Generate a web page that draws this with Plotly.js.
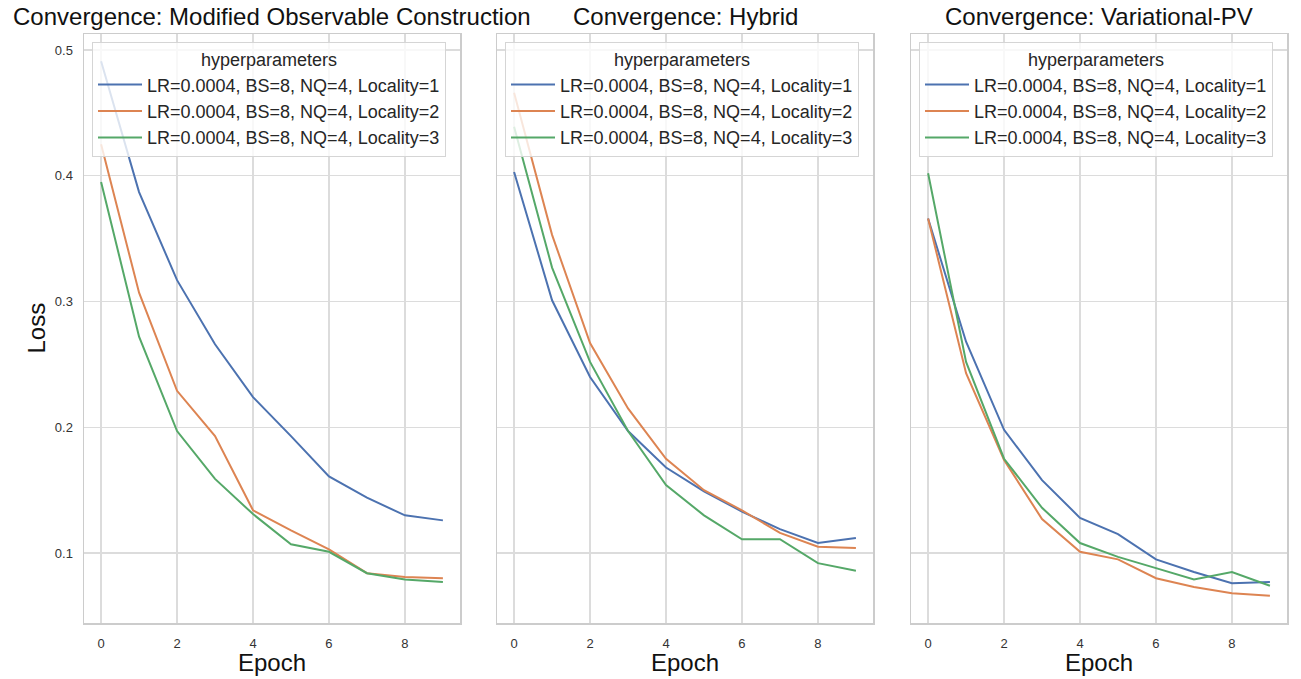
<!DOCTYPE html>
<html>
<head>
<meta charset="utf-8">
<script src="https://cdn.plot.ly/plotly-3.0.1.min.js"></script>
<style>html,body{margin:0;padding:0;background:#fff;}#chart{width:1301px;height:679px;}</style>
</head>
<body>
<div id="chart"></div>
<script>
const epochs = [0,1,2,3,4,5,6,7,8,9];
const seriesNames = ["LR=0.0004, BS=8, NQ=4, Locality=1","LR=0.0004, BS=8, NQ=4, Locality=2","LR=0.0004, BS=8, NQ=4, Locality=3"];
const panelTitles = ["Convergence: Modified Observable Construction","Convergence: Hybrid","Convergence: Variational-PV"];
const xTicks = [0,2,4,6,8];
const yTicks = [0.1,0.2,0.3,0.4,0.5];

// Modified Observable Construction
const mocL1 = [0.491,0.387,0.317,0.266,0.224,0.193,0.161,0.144,0.130,0.126];
const mocL2 = [0.425,0.307,0.229,0.193,0.134,0.118,0.103,0.084,0.081,0.080];
const mocL3 = [0.395,0.272,0.197,0.159,0.131,0.107,0.101,0.084,0.079,0.077];
// Hybrid
const hybL1 = [0.403,0.301,0.240,0.197,0.168,0.149,0.133,0.119,0.108,0.112];
const hybL2 = [0.466,0.353,0.267,0.215,0.175,0.150,0.134,0.116,0.105,0.104];
const hybL3 = [0.439,0.327,0.252,0.197,0.154,0.130,0.111,0.111,0.092,0.086];
// Variational-PV
const vpvL1 = [0.366,0.268,0.198,0.158,0.128,0.115,0.095,0.085,0.076,0.077];
const vpvL2 = [0.366,0.243,0.174,0.127,0.101,0.095,0.080,0.073,0.068,0.066];
const vpvL3 = [0.402,0.252,0.175,0.136,0.108,0.097,0.088,0.079,0.085,0.074];

const colors = ["#4c72b0","#dd8452","#55a868"];
const panels = [[mocL1,mocL2,mocL3],[hybL1,hybL2,hybL3],[vpvL1,vpvL2,vpvL3]];
const font = "Liberation Sans, Arial, sans-serif";

const traces = [];
panels.forEach((p, pi) => {
  p.forEach((ys, si) => {
    traces.push({
      x: epochs, y: ys, type: "scatter", mode: "lines",
      name: seriesNames[si],
      line: {color: colors[si], width: 2},
      xaxis: pi === 0 ? "x" : "x" + (pi + 1),
      yaxis: pi === 0 ? "y" : "y" + (pi + 1),
      legend: pi === 0 ? "legend" : "legend" + (pi + 1),
      showlegend: true
    });
  });
});

const L = 84, R = 14, T = 34, B = 56, W = 1301, H = 679;
const PW = W - L - R, PH = H - T - B;
const px = [[84,460],[497,873],[911,1287]];
const domains = px.map(d => [(d[0]-L)/PW, (d[1]-L)/PW]);

const layout = {
  width: W, height: H,
  margin: {l: L, r: R, t: T, b: B},
  paper_bgcolor: "#ffffff", plot_bgcolor: "#ffffff",
  font: {family: font, color: "#262626"},
  annotations: [],
  showlegend: true
};

const yr = [0.0444, 0.5127];
domains.forEach((d, i) => {
  const xs = i === 0 ? "xaxis" : "xaxis" + (i + 1);
  const ysn = i === 0 ? "yaxis" : "yaxis" + (i + 1);
  const yname = i === 0 ? "y" : "y" + (i + 1);
  const xname = i === 0 ? "x" : "x" + (i + 1);
  layout[xs] = {
    domain: d, anchor: yname, range: [-0.45, 9.45],
    tickvals: xTicks, ticktext: xTicks.map(String),
    showgrid: true, gridcolor: "#dcdcdc", gridwidth: 1.3,
    zeroline: false, showline: true, mirror: true, linecolor: "#cccccc", linewidth: 1.5,
    ticks: "", ticklabelstandoff: 8,
    tickfont: {size: 13, color: "#333333", family: font}
  };
  layout[ysn] = {
    domain: [0, 1], anchor: xname, range: yr,
    tickvals: yTicks, ticktext: yTicks.map(v => v.toFixed(1)),
    showticklabels: i === 0,
    showgrid: true, gridcolor: "#dcdcdc", gridwidth: 1.3,
    zeroline: false, showline: true, mirror: true, linecolor: "#cccccc", linewidth: 1.5,
    ticks: "", ticklabelstandoff: 7,
    tickfont: {size: 13, color: "#333333", family: font}
  };
  const lg = i === 0 ? "legend" : "legend" + (i + 1);
  layout[lg] = {
    x: (px[i][0] + 8 - L) / PW, y: 1 - (42 - T) / PH,
    xanchor: "left", yanchor: "top",
    xref: "paper", yref: "paper",
    bgcolor: "rgba(255,255,255,0.8)", bordercolor: "#d5d5d5", borderwidth: 1,
    font: {size: 18, color: "#262626", family: font},
    itemwidth: 44,
    title: {text: "hyperparameters", side: "top center", font: {size: 18, color: "#262626", family: font}},
    traceorder: "normal"
  };
  const cx = (d[0] + d[1]) / 2;
  layout.annotations.push({
    text: panelTitles[i], xref: "paper", yref: "paper", x: cx, y: 1,
    xanchor: "center", yanchor: "bottom", yshift: 2, showarrow: false,
    font: {size: 24, color: "#111111", family: font}
  });
  layout.annotations.push({
    text: "Epoch", xref: "paper", yref: "paper", x: cx, y: 0,
    xanchor: "center", yanchor: "middle", yshift: -39, showarrow: false,
    font: {size: 24, color: "#111111", family: font}
  });
});
layout.annotations.push({
  text: "Loss", xref: "paper", yref: "paper", x: 0, y: 0.5,
  xanchor: "center", yanchor: "middle", xshift: -48, textangle: -90, showarrow: false,
  font: {size: 24, color: "#111111", family: font}
});

Plotly.newPlot("chart", traces, layout, {displayModeBar: false, staticPlot: true});
</script>
</body>
</html>
